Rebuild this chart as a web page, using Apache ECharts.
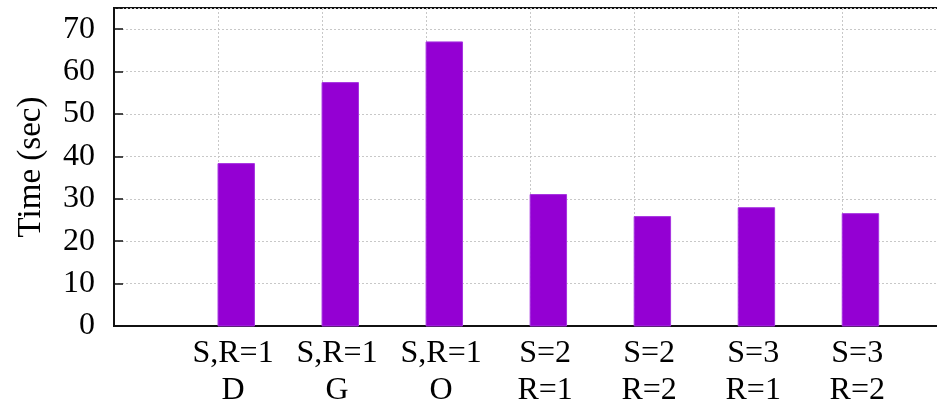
<!DOCTYPE html>
<html>
<head>
<meta charset="utf-8">
<script src="https://cdn.jsdelivr.net/npm/echarts@6/dist/echarts.min.js"></script>
<style>
  html, body { margin: 0; padding: 0; background: #fff; }
  #chart { width: 937px; height: 403px; }
</style>
</head>
<body>
<div id="chart"></div>
<script>
// ---- data ----
const categories = ['S,R=1\nD', 'S,R=1\nG', 'S,R=1\nO', 'S=2\nR=1', 'S=2\nR=2', 'S=3\nR=1', 'S=3\nR=2'];
const times = [38.3, 57.4, 67.0, 31.0, 25.8, 27.9, 26.5];
const yTicks = [0, 10, 20, 30, 40, 50, 60, 70];
const yTitle = 'Time (sec)';

// ---- chart ----
const FONT = '"Liberation Serif", "DejaVu Serif", serif';
const BOX_WIDTH = 0.35; // in x-axis units (gnuplot boxwidth)

const barData = times.map((v, i) => [i + 1, v]);

const chart = echarts.init(document.getElementById('chart'), null, { renderer: 'canvas' });

const gridLine = { show: true, lineStyle: { color: '#c8c8c8', width: 1, type: [2, 2] } };

chart.setOption({
  animation: false,
  backgroundColor: '#fff',
  grid: {
    left: 114, right: -2, top: 8, bottom: 77,
    containLabel: false,
    outerBoundsMode: 'none',
    show: true, borderColor: '#111', borderWidth: 2, backgroundColor: 'transparent'
  },
  xAxis: {
    type: 'value',
    min: 0, max: 7.93, interval: 1,
    axisLine: { show: true, lineStyle: { color: '#111', width: 2 } },
    axisTick: { show: false },
    splitLine: gridLine,
    axisLabel: {
      show: true,
      margin: 9,
      fontFamily: FONT, fontSize: 32, color: '#000', lineHeight: 37,
      padding: [0, 0, 0, 30],
      showMaxLabel: false,
      hideOverlap: false,
      formatter: function (v) {
        const k = Math.round(v);
        if (Math.abs(v - k) > 1e-6 || k < 1 || k > categories.length) return '';
        return categories[k - 1];
      }
    }
  },
  yAxis: {
    type: 'value',
    min: 0, max: 75, interval: 10,
    name: yTitle,
    nameLocation: 'middle',
    nameGap: 66,
    nameTextStyle: { fontFamily: FONT, fontSize: 33, color: '#000' },
    axisLine: { show: true, lineStyle: { color: '#111', width: 2 } },
    axisTick: { show: true, inside: true, length: 9, lineStyle: { color: '#111', width: 1.5 } },
    splitLine: gridLine,
    axisLabel: {
      margin: 19,
      fontFamily: FONT, fontSize: 32, color: '#000',
      formatter: function (v) { return yTicks.indexOf(v) >= 0 ? String(v) : ''; }
    }
  },
  series: [{
    type: 'custom',
    data: barData,
    encode: { x: 0, y: 1 },
    renderItem: function (params, api) {
      const x = api.value(0);
      const y = api.value(1);
      const p1 = api.coord([x, y]);
      const p2 = api.coord([x + BOX_WIDTH, 0]);
      return {
        type: 'rect',
        shape: { x: p1[0], y: p1[1], width: p2[0] - p1[0], height: p2[1] - p1[1] },
        style: { fill: '#9400d3', stroke: '#a633e0', lineWidth: 1 }
      };
    },
    z: 3
  }]
});
</script>
</body>
</html>
